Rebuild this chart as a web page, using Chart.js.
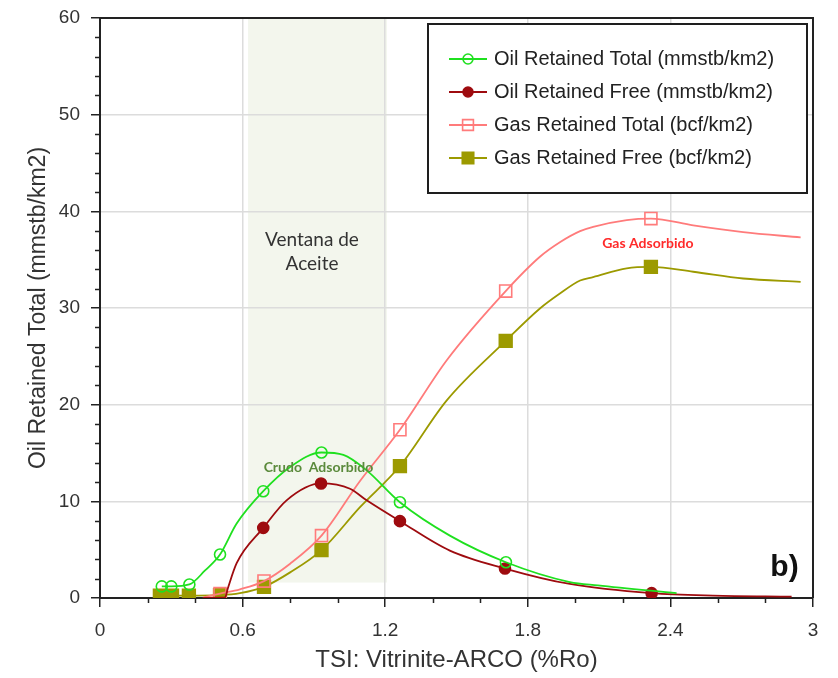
<!DOCTYPE html>
<html>
<head>
<meta charset="utf-8">
<title>Oil and gas retained vs TSI</title>
<script src="https://cdn.jsdelivr.net/npm/chart.js@4.4.1/dist/chart.umd.min.js"></script>
<style>
  html, body { margin: 0; padding: 0; background: #fff; }
</style>
</head>
<body>
<canvas id="chart" width="838" height="678"></canvas>
<script>
// TSI (%Ro) positions and retained volumes
const oilTotalRo = [0.26, 0.30, 0.376, 0.442, 0.505, 0.575, 0.687, 0.80, 0.932, 1.024, 1.122, 1.262, 1.472, 1.708, 1.977, 2.095, 2.426];
const oilTotal   = [1.2, 1.2, 1.4, 2.85, 4.5, 7.7, 11.05, 13.55, 15.05, 14.8, 13.2, 9.9, 6.45, 3.7, 1.65, 1.3, 0.5];
const oilTotalMarked = [0, 1, 2, 4, 6, 8, 11, 13];

const oilFreeRo = [0.433, 0.526, 0.538, 0.575, 0.687, 0.785, 0.93, 1.052, 1.122, 1.262, 1.472, 1.704, 1.977, 2.321, 2.579, 2.91];
const oilFree   = [0.0, 0.05, 1.0, 3.6, 7.25, 10.1, 11.85, 11.3, 10.1, 7.95, 4.9, 3.05, 1.45, 0.5, 0.25, 0.15];
const oilFreeMarked = [4, 6, 9, 11, 13];

const gasTotalRo = [0.433, 0.505, 0.589, 0.69, 0.80, 0.932, 1.094, 1.262, 1.459, 1.707, 1.851, 1.935, 2.02, 2.075, 2.216, 2.318, 2.496, 2.706, 2.948];
const gasTotal   = [0.05, 0.45, 0.9, 1.75, 3.55, 6.45, 12.1, 17.4, 24.6, 31.75, 35.3, 36.8, 37.95, 38.4, 39.1, 39.25, 38.55, 37.85, 37.3];
const gasTotalMarked = [1, 3, 5, 7, 9, 15];

const gasFreeRo = [0.252, 0.303, 0.374, 0.505, 0.589, 0.69, 0.80, 0.932, 1.094, 1.262, 1.459, 1.707, 1.851, 1.935, 2.02, 2.075, 2.216, 2.318, 2.496, 2.706, 2.948];
const gasFree   = [0.25, 0.25, 0.25, 0.3, 0.5, 1.15, 2.65, 4.95, 9.4, 13.65, 20.45, 26.6, 29.95, 31.5, 32.85, 33.2, 34.1, 34.25, 33.75, 33.05, 32.7];
const gasFreeMarked = [0, 1, 2, 3, 5, 7, 9, 11, 17];

const xTicks = [0, 0.6, 1.2, 1.8, 2.4, 3];
const yTicks = [0, 10, 20, 30, 40, 50, 60];

// oil window (Ventana de Aceite) extent in data units
const windowRo = [0.623, 1.207];
const windowFloor = 1.6;

function pts(xs, ys) {
  return xs.map((x, i) => ({ x: x, y: ys[i] }));
}

function series(label, xs, ys, marked, color, style, filled, radius) {
  return {
    label: label,
    data: pts(xs, ys),
    borderColor: color,
    borderWidth: 1.8,
    cubicInterpolationMode: 'monotone',
    pointStyle: style,
    pointBackgroundColor: filled ? color : 'rgba(0,0,0,0)',
    pointBorderColor: color,
    pointBorderWidth: 1.6,
    pointRadius: ctx => marked.includes(ctx.dataIndex) ? radius : 0,
    pointHoverRadius: ctx => marked.includes(ctx.dataIndex) ? radius : 0,
    markerRadius: radius
  };
}

const FONT = '"Liberation Sans", Arial, sans-serif';

const oilWindow = {
  id: 'oilWindow',
  beforeDraw(chart) {
    const { ctx, scales: { x, y } } = chart;
    const x0 = x.getPixelForValue(windowRo[0]);
    const x1 = x.getPixelForValue(windowRo[1]);
    const yTop = y.getPixelForValue(60);
    const yBot = y.getPixelForValue(windowFloor);
    ctx.save();
    ctx.fillStyle = '#f3f6ed';
    ctx.fillRect(x0, yTop, x1 - x0, yBot - yTop);
    ctx.restore();
  }
};

const frame = {
  id: 'frame',
  afterDatasetsDraw(chart) {
    const { ctx, chartArea: a, scales: { x, y } } = chart;
    ctx.save();
    ctx.strokeStyle = '#222';
    ctx.lineWidth = 2;
    ctx.beginPath();
    ctx.moveTo(a.left, a.top);
    ctx.lineTo(a.right, a.top);
    ctx.lineTo(a.right, a.bottom);
    ctx.stroke();
    // minor ticks
    ctx.lineWidth = 1.5;
    ctx.beginPath();
    for (let i = 1; i < 15; i++) {
      if (i % 3 === 0) continue;
      const px = Math.round(x.getPixelForValue(i * 0.2)) + 0.5;
      ctx.moveTo(px, a.bottom);
      ctx.lineTo(px, a.bottom + 5);
    }
    for (let j = 1; j < 30; j++) {
      if (j % 5 === 0) continue;
      const py = Math.round(y.getPixelForValue(j * 2)) + 0.5;
      ctx.moveTo(a.left, py);
      ctx.lineTo(a.left - 5, py);
    }
    ctx.stroke();

    // notes
    ctx.textAlign = 'center';
    ctx.textBaseline = 'middle';
    ctx.fillStyle = '#333';
    ctx.font = '19px Lato, "Open Sans", sans-serif';
    ctx.fillText('Ventana de', x.getPixelForValue(0.892), y.getPixelForValue(37.0));
    ctx.fillText('Aceite', x.getPixelForValue(0.892), y.getPixelForValue(34.6));
    ctx.font = 'bold 14px Lato, "Open Sans", sans-serif';
    ctx.fillStyle = '#5b8a3c';
    ctx.fillText('Crudo  Adsorbido', x.getPixelForValue(0.919), y.getPixelForValue(13.5));
    ctx.fillStyle = '#ff2a2a';
    ctx.fillText('Gas Adsorbido', x.getPixelForValue(2.305), y.getPixelForValue(36.7));
    ctx.font = 'bold 30px ' + FONT;
    ctx.fillStyle = '#111';
    ctx.fillText('b)', x.getPixelForValue(2.88), y.getPixelForValue(3.1));
    ctx.restore();
  }
};

const legendBox = {
  id: 'legendBox',
  afterDraw(chart) {
    const { ctx, chartArea: a } = chart;
    const w = 379, h = 169;
    const left = a.right - 6 - w, top = a.top + 6;
    ctx.save();
    ctx.fillStyle = '#fff';
    ctx.fillRect(left, top, w, h);
    ctx.strokeStyle = '#1e1e1e';
    ctx.lineWidth = 2;
    ctx.strokeRect(left, top, w, h);
    ctx.font = '20px ' + FONT;
    ctx.textBaseline = 'middle';
    chart.data.datasets.forEach((ds, i) => {
      const yy = top + 35 + i * 33;
      const x0 = left + 21, x1 = left + 59, xm = (x0 + x1) / 2;
      ctx.strokeStyle = ds.borderColor;
      ctx.lineWidth = ds.borderWidth;
      ctx.beginPath();
      ctx.moveTo(x0, yy);
      ctx.lineTo(x1, yy);
      ctx.stroke();
      ctx.fillStyle = ds.pointBackgroundColor;
      ctx.strokeStyle = ds.pointBorderColor;
      ctx.lineWidth = ds.pointBorderWidth;
      Chart.helpers.drawPoint(ctx, {
        pointStyle: ds.pointStyle, radius: ds.markerRadius * 0.9, rotation: 0, borderWidth: ds.pointBorderWidth
      }, xm, yy);
      ctx.fillStyle = '#222';
      ctx.fillText(ds.label, left + 66, yy);
    });
    ctx.restore();
  }
};

new Chart(document.getElementById('chart'), {
  type: 'line',
  data: {
    datasets: [
      series('Oil Retained Total (mmstb/km2)', oilTotalRo, oilTotal, oilTotalMarked, '#1fe01f', 'circle', false, 5.5),
      series('Oil Retained Free (mmstb/km2)', oilFreeRo, oilFree, oilFreeMarked, '#9e0b0f', 'circle', true, 5.5),
      series('Gas Retained Total (bcf/km2)', gasTotalRo, gasTotal, gasTotalMarked, '#ff7b7b', 'rect', false, 8.5),
      series('Gas Retained Free (bcf/km2)', gasFreeRo, gasFree, gasFreeMarked, '#9c9a00', 'rect', true, 9)
    ]
  },
  options: {
    responsive: false,
    animation: false,
    layout: { padding: { top: 18, right: 25, left: 0, bottom: 0 } },
    plugins: {
      legend: { display: false },
      tooltip: { enabled: false }
    },
    scales: {
      x: {
        type: 'linear',
        min: 0,
        max: 3,
        afterFit: s => { s.height = 80; s.paddingLeft = 0; s.paddingRight = 0; },
        afterBuildTicks: s => { s.ticks = xTicks.map(v => ({ value: v })); },
        ticks: {
          font: { family: FONT, size: 19 },
          color: '#333',
          padding: 12,
          maxRotation: 0,
          callback: v => String(+v.toFixed(1))
        },
        grid: {
          color: '#dcdcdc',
          lineWidth: 1.5,
          tickColor: '#222',
          tickLength: 9,
          tickWidth: 1.5
        },
        border: { color: '#222', width: 2 },
        title: {
          display: true,
          text: 'TSI: Vitrinite-ARCO (%Ro)',
          font: { family: FONT, size: 24 },
          color: '#333',
          padding: { top: 0, bottom: 3 }
        }
      },
      y: {
        min: 0,
        max: 60,
        afterFit: s => { s.width = 100; s.paddingTop = 0; s.paddingBottom = 0; },
        afterBuildTicks: s => { s.ticks = yTicks.map(v => ({ value: v })); },
        ticks: {
          font: { family: FONT, size: 19 },
          color: '#333',
          padding: 11
        },
        grid: {
          color: '#dcdcdc',
          lineWidth: 1.5,
          tickColor: '#222',
          tickLength: 9,
          tickWidth: 1.5
        },
        border: { color: '#222', width: 2 },
        title: {
          display: true,
          text: 'Oil Retained Total (mmstb/km2)',
          font: { family: FONT, size: 23 },
          color: '#333',
          padding: { top: 25, bottom: 0 }
        }
      }
    }
  },
  plugins: [oilWindow, frame, legendBox]
});
</script>
</body>
</html>
